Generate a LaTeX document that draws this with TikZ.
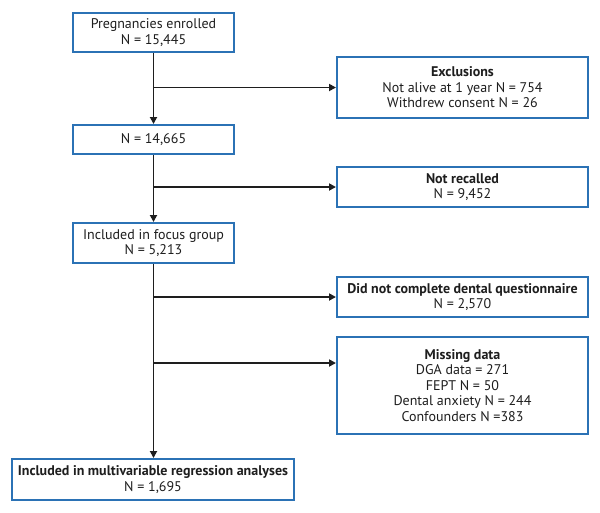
\documentclass[tikz,border=0pt]{standalone}
\usepackage{fontspec}
\setmainfont{PT Sans}
\usetikzlibrary{arrows.meta}
\definecolor{boxblue}{HTML}{2B72B5}
\definecolor{txt}{HTML}{1E1E1E}
\tikzset{
  fbox/.style={draw=boxblue, line width=2pt, fill=white, align=center, text=txt,
    font=\fontsize{14}{15.5}\selectfont, inner sep=0pt},
  arr/.style={draw=txt, line width=1.8pt, -{Triangle[length=7pt,width=7pt]}},
}
\begin{document}
\begin{tikzpicture}[x=1pt,y=-1pt]
\useasboundingbox (0,0) rectangle (600,512);
\node[fbox, minimum width=161pt, minimum height=39pt] (b1) at (153.5,32.5) {Pregnancies enrolled\\N = 15,445};
\node[fbox, minimum width=161pt, minimum height=29pt] (b2) at (153.5,139.5) {N = 14,665};
\node[fbox, minimum width=161pt, minimum height=40pt] (b3) at (153.5,243) {Included in focus group\\N = 5,213};
\node[fbox, minimum width=282pt, minimum height=41pt] (fin) at (153,479.5) {\textbf{Included in multivariable regression analyses}\\N = 1,695};
\node[fbox, minimum width=251pt, minimum height=61pt] (exc) at (462.5,87.5) {\textbf{Exclusions}\\Not alive at 1 year N = 754\\Withdrew consent N = 26};
\node[fbox, minimum width=251pt, minimum height=40pt] (nr) at (462.5,187) {\textbf{Not recalled}\\N = 9,452};
\node[fbox, minimum width=251pt, minimum height=40pt] (dq) at (462.5,297) {\textbf{Did not complete dental questionnaire}\\N = 2,570};
\node[fbox, minimum width=251pt, minimum height=97pt] (md) at (462.5,385.5) {\textbf{Missing data}\\DGA data = 271\\FEPT N = 50\\Dental anxiety N = 244\\Confounders N =383};
\coordinate (s1) at (b1.south |- exc.west);
\coordinate (s2) at (b2.south |- nr.west);
\coordinate (s3) at (b3.south |- dq.west);
\coordinate (s4) at (153.5,363);
\draw[arr] (b1.south) -- (b2.north);
\draw[arr] (b2.south) -- (b3.north);
\draw[arr] (b3.south) -- (b3.south |- fin.north);
\draw[arr] (s1) -- (exc.west);
\draw[arr] (s2) -- (nr.west);
\draw[arr] (s3) -- (dq.west);
\draw[arr] (s4) -- (s4 -| md.west);
\end{tikzpicture}
\end{document}
